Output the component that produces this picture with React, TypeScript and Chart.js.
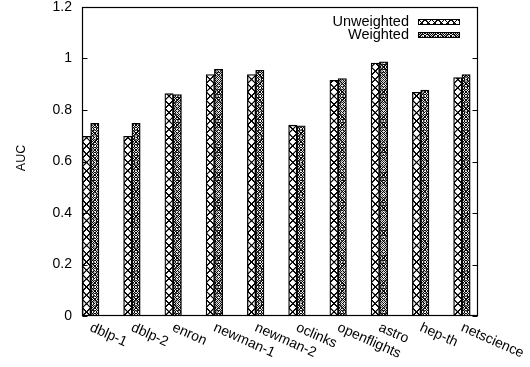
import React, { useEffect, useRef } from "react";
import { Chart, registerables } from "chart.js";

Chart.register(...registerables);

// Graph datasets on the x axis
const graphs = [
  "dblp-1",
  "dblp-2",
  "enron",
  "newman-1",
  "newman-2",
  "oclinks",
  "openflights",
  "astro",
  "hep-th",
  "netscience",
];

// AUC per graph
const unweightedAuc = [0.698, 0.698, 0.864, 0.938, 0.938, 0.741, 0.915, 0.982, 0.869, 0.926];
const weightedAuc = [0.748, 0.748, 0.86, 0.958, 0.954, 0.739, 0.922, 0.987, 0.877, 0.938];

const seriesNames = ["Unweighted", "Weighted"];
const yTickValues = [0, 0.2, 0.4, 0.6, 0.8, 1, 1.2];
const yTickLabels = ["0", "0.2", "0.4", "0.6", "0.8", "1", "1.2"];
const yTitle = "AUC";

const FONT = "'Liberation Sans', Arial, Helvetica, sans-serif";
const BAR_W = 8.3;
const TILE = 32; // tile drawn at 4x and scaled down

// Hatch tiles: crosshatch and dense crosshatch with rings
function makeTile(kind: number): HTMLCanvasElement {
  const c = document.createElement("canvas");
  c.width = TILE;
  c.height = TILE;
  const g = c.getContext("2d")!;
  g.fillStyle = "#fff";
  g.fillRect(0, 0, TILE, TILE);
  g.strokeStyle = "#000";
  g.fillStyle = "#000";
  const h = TILE / 2;
  if (kind === 0) {
    g.lineWidth = 5;
    g.beginPath();
    g.moveTo(-4, -4);
    g.lineTo(TILE + 4, TILE + 4);
    g.moveTo(TILE + 4, -4);
    g.lineTo(-4, TILE + 4);
    g.stroke();
  } else {
    g.lineWidth = 4;
    g.beginPath();
    g.moveTo(h, 0);
    g.lineTo(TILE, h);
    g.lineTo(h, TILE);
    g.lineTo(0, h);
    g.closePath();
    g.stroke();
    g.lineWidth = 3.2;
    g.beginPath();
    g.arc(h, h, 6.5, 0, Math.PI * 2);
    g.stroke();
    g.beginPath();
    g.arc(h, h, 2.2, 0, Math.PI * 2);
    g.fill();
    // dark corners between the rings
    for (const [dx, dy] of [[0, 0], [TILE, 0], [0, TILE], [TILE, TILE]]) {
      g.beginPath();
      g.moveTo(dx, dy - 9);
      g.lineTo(dx + 9, dy);
      g.lineTo(dx, dy + 9);
      g.lineTo(dx - 9, dy);
      g.closePath();
      g.fill();
    }
  }
  return c;
}

let tiles: HTMLCanvasElement[] | null = null;
function getTiles() {
  if (!tiles) tiles = [makeTile(0), makeTile(1)];
  return tiles;
}

function hatch(c: CanvasRenderingContext2D, kind: number, left: number, top: number, cell: number) {
  const pat = c.createPattern(getTiles()[kind], "repeat")!;
  const s = cell / TILE;
  pat.setTransform(new DOMMatrix().translate(left, top).scale(s, s));
  return pat;
}

function barFill(kind: number) {
  return (ctx: any) => {
    const chart = ctx.chart;
    const xs = chart.scales && chart.scales.x;
    if (ctx.type !== "data" || !xs || !chart.chartArea) {
      return chart.ctx.createPattern(getTiles()[kind], "repeat");
    }
    const cx = xs.getPixelForValue(ctx.raw.x);
    const left = kind === 0 ? cx - BAR_W : cx;
    return hatch(chart.ctx, kind, left, chart.chartArea.bottom, BAR_W);
  };
}

// Frame, inward ticks, axis title, rotated category labels and key
const decorations = {
  id: "decorations",
  afterDraw(chart: any) {
    const { ctx, chartArea: a, scales } = chart;
    const xs = scales.x;
    const ys = scales.y;
    ctx.save();
    ctx.strokeStyle = "#000";
    ctx.lineWidth = 1.2;
    const L = Math.round(a.left) + 0.5;
    const R = Math.round(a.right) - 0.5;
    const T = Math.round(a.top) + 0.5;
    const B = Math.round(a.bottom) - 0.5;
    ctx.strokeRect(L, T, R - L, B - T);
    ctx.lineWidth = 1;
    ctx.beginPath();
    for (const v of yTickValues) {
      const py = Math.round(ys.getPixelForValue(v)) + 0.5;
      ctx.moveTo(L, py);
      ctx.lineTo(L + 5, py);
      ctx.moveTo(R, py);
      ctx.lineTo(R - 5, py);
    }
    ctx.stroke();

    ctx.fillStyle = "#000";

    // y-axis title
    ctx.save();
    ctx.font = `12.5px ${FONT}`;
    ctx.textAlign = "center";
    ctx.textBaseline = "middle";
    ctx.translate(22, 158);
    ctx.rotate(-Math.PI / 2);
    ctx.fillText(yTitle, 0, 0);
    ctx.restore();

    ctx.font = `14px ${FONT}`;
    ctx.textAlign = "left";
    ctx.textBaseline = "middle";
    graphs.forEach((name, i) => {
      const px = xs.getPixelForValue(i);
      ctx.save();
      ctx.translate(px, a.bottom + 11);
      ctx.rotate((24 * Math.PI) / 180);
      ctx.fillText(name, 0, 0);
      ctx.restore();
    });

    // key
    ctx.font = `14.5px ${FONT}`;
    ctx.textAlign = "right";
    const rows = [21.5, 34.5];
    seriesNames.forEach((name, k) => {
      const cy = rows[k];
      ctx.fillText(name, 409, cy);
      const bx = 418.5;
      const bw = 41;
      const bh = 5;
      const by = Math.round(cy - bh / 2) + 0.5;
      ctx.fillStyle = hatch(ctx, k, bx, by, 6.5);
      ctx.fillRect(bx, by, bw, bh);
      ctx.strokeRect(bx, by, bw, bh);
      ctx.fillStyle = "#000";
    });
    ctx.restore();
  },
};

export default function App() {
  const canvasRef = useRef<HTMLCanvasElement | null>(null);

  useEffect(() => {
    document.body.style.margin = "0";
    const canvas = canvasRef.current;
    if (!canvas) return;

    const chart = new Chart(canvas, {
      type: "bar",
      data: {
        datasets: [
          {
            label: seriesNames[0],
            data: unweightedAuc.map((v, i) => ({ x: i, y: v })),
            backgroundColor: barFill(0) as any,
            borderColor: "#000",
            borderWidth: 1.3,
            borderSkipped: false,
            barThickness: BAR_W,
          },
          {
            label: seriesNames[1],
            data: weightedAuc.map((v, i) => ({ x: i, y: v })),
            backgroundColor: barFill(1) as any,
            borderColor: "#000",
            borderWidth: 1.3,
            borderSkipped: false,
            barThickness: BAR_W,
          },
        ],
      },
      options: {
        responsive: false,
        animation: false,
        devicePixelRatio: 1,
        layout: { padding: { left: 0, right: 52, top: 7, bottom: 51 } },
        plugins: {
          legend: { display: false },
          tooltip: { enabled: false },
        },
        scales: {
          x: {
            type: "linear",
            min: -0.21,
            max: 9.39,
            offset: false,
            display: false,
          },
          y: {
            min: 0,
            max: 1.2,
            grid: { display: false, drawTicks: false },
            border: { display: false },
            ticks: {
              color: "#000",
              padding: 10,
              font: { family: FONT, size: 14 },
              callback: (_v: any, i: number) => yTickLabels[i],
            },
            afterBuildTicks: (scale: any) => {
              scale.ticks = yTickValues.map((v) => ({ value: v }));
            },
            afterFit: (scale: any) => {
              scale.width = 82;
              scale.paddingTop = 0;
              scale.paddingBottom = 0;
            },
          },
        },
      },
      plugins: [decorations],
    });

    return () => chart.destroy();
  }, []);

  return (
    <div style={{ width: 530, height: 367, background: "#fff" }}>
      <canvas ref={canvasRef} width={530} height={367} />
    </div>
  );
}
